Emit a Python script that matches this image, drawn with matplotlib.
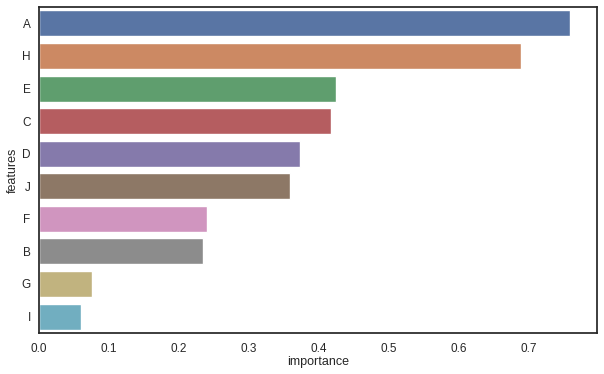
import matplotlib
matplotlib.use('Agg')
import matplotlib.pyplot as plt
import seaborn as sns

features = ['A', 'H', 'E', 'C', 'D', 'J', 'F', 'B', 'G', 'I']
importance = [0.759, 0.689, 0.424, 0.417, 0.373, 0.358, 0.240, 0.235, 0.075, 0.060]

sns.set_theme(style='white')
plt.rcParams['font.family'] = ['Liberation Sans', 'DejaVu Sans']

colors = [sns.desaturate(c, 0.75) for c in sns.color_palette('deep', len(features))]

fig = plt.figure(figsize=(6.04, 3.74), dpi=100)
ax = fig.add_axes([0.0646, 0.110, 0.9234, 0.871])

pos = list(range(len(features)))
ax.barh(pos, importance, height=0.8, color=colors)
ax.set_yticks(pos)
ax.set_yticklabels(features)
ax.set_ylim(len(features) - 0.5, -0.5)
ax.set_xlim(0, max(importance) * 1.05)

ax.tick_params(labelsize=8.5, colors='.15', length=0)
ax.tick_params(axis='y', pad=6)
ax.tick_params(axis='x', pad=7)
ax.set_xlabel('importance', fontsize=9, labelpad=1)
ax.set_ylabel('features', fontsize=9)
ax.yaxis.set_label_coords(-0.037, 0.5)
for s in ax.spines.values():
    s.set_color('.15')
    s.set_linewidth(1.25)

fig.savefig('out.png', dpi=100)
